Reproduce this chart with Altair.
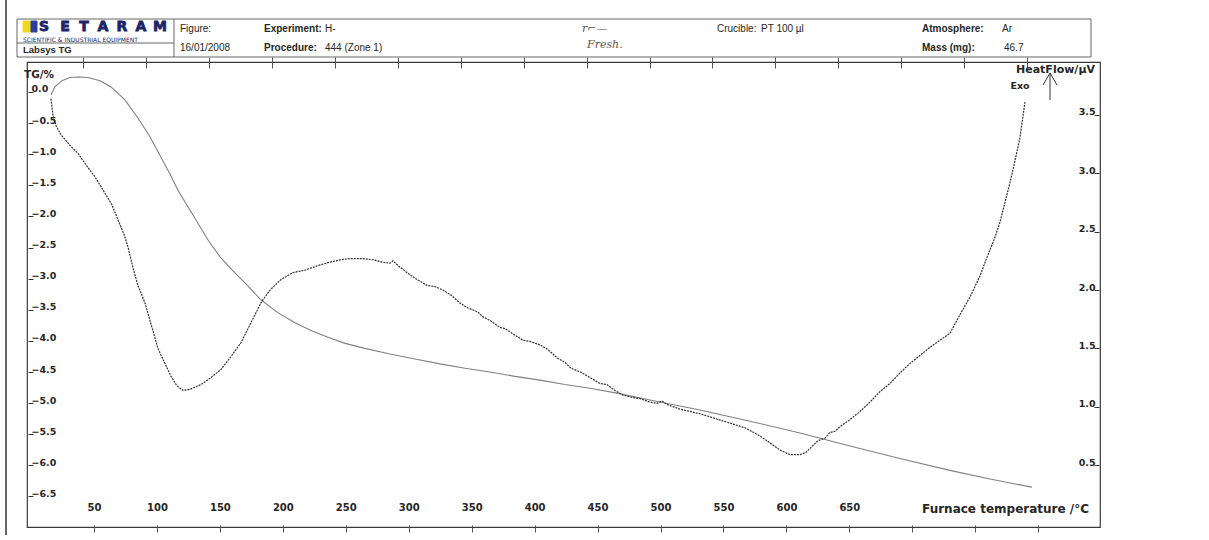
import altair as alt
import pandas as pd

# ---- measured traces ---------------------------------------------------
# TG trace: furnace temperature (°C) and mass change (%)
tg_temp = [15.8, 19.0, 24.6, 30.9, 37.3, 45.2, 54.8, 63.5, 74.6, 84.9,
           94.5, 103.2, 110.4, 116.7, 123.9, 130.2, 140.6, 150.1, 159.6, 169.9,
           182.6, 196.2, 209.7, 223.2, 235.9, 249.4, 265.3, 285.1, 305.0, 324.8,
           344.7, 364.5, 384.4, 404.3, 424.1, 444.0, 465.4, 491.6, 531.3, 571.1,
           610.8, 650.5, 690.2, 729.9, 761.7, 795.0]
tg_mass = [-0.05, 0.08, 0.18, 0.23, 0.24, 0.23, 0.18, 0.08, -0.13, -0.42,
           -0.72, -1.05, -1.32, -1.58, -1.82, -2.03, -2.38, -2.65, -2.86, -3.07,
           -3.34, -3.55, -3.71, -3.84, -3.94, -4.04, -4.12, -4.21, -4.29, -4.37,
           -4.44, -4.50, -4.57, -4.63, -4.70, -4.76, -4.84, -4.95, -5.11, -5.29,
           -5.48, -5.69, -5.89, -6.08, -6.22, -6.35]

# Heat-flow trace: furnace temperature (°C) and signal (µV)
hf_temp = [15.8, 17.4, 19.8, 23.8, 30.9, 37.3, 45.2, 50.8, 58.7, 64.3,
           69.1, 73.8, 77.0, 81.0, 84.9, 90.5, 96.1, 100.8, 106.4, 111.2,
           115.9, 120.7, 126.3, 135.0, 142.9, 150.9, 158.8, 166.8, 174.7, 182.6,
           189.8, 198.5, 208.1, 217.6, 227.9, 237.5, 246.2, 253.3, 262.9, 271.6,
           278.8, 285.1, 287.5, 291.5, 298.6, 306.6, 314.5, 320.9, 327.2, 334.4,
           340.7, 346.3, 351.0, 355.0, 359.0, 364.5, 372.5, 376.5, 382.0, 390.8,
           396.3, 404.3, 410.6, 417.8, 424.1, 428.9, 436.0, 444.0, 451.9, 457.5,
           463.8, 470.2, 477.3, 483.7, 491.6, 497.2, 501.2, 505.1, 515.5, 523.4,
           531.3, 543.3, 555.2, 567.1, 579.0, 587.0, 594.9, 602.8, 610.8, 615.6,
           620.3, 625.1, 630.6, 634.6, 638.6, 642.6, 650.5, 658.5, 666.4, 674.3,
           682.3, 690.2, 698.1, 706.1, 714.0, 722.0, 729.9, 737.9, 745.8, 753.7,
           759.3, 764.9, 769.6, 773.6, 777.6, 781.6, 785.6, 789.5]
hf_signal = [3.64, 3.50, 3.41, 3.33, 3.24, 3.17, 3.05, 2.97, 2.83, 2.73,
             2.60, 2.48, 2.37, 2.19, 2.04, 1.89, 1.68, 1.50, 1.37, 1.26,
             1.18, 1.14, 1.15, 1.19, 1.25, 1.32, 1.43, 1.55, 1.72, 1.89,
             2.00, 2.09, 2.15, 2.17, 2.21, 2.24, 2.26, 2.27, 2.27, 2.26,
             2.24, 2.23, 2.25, 2.21, 2.15, 2.09, 2.04, 2.03, 2.00, 1.95,
             1.89, 1.85, 1.83, 1.81, 1.77, 1.74, 1.68, 1.67, 1.63, 1.57,
             1.56, 1.53, 1.49, 1.42, 1.38, 1.33, 1.30, 1.25, 1.20, 1.19,
             1.14, 1.10, 1.08, 1.07, 1.04, 1.03, 1.05, 1.02, 0.98, 0.96,
             0.94, 0.90, 0.86, 0.82, 0.75, 0.69, 0.63, 0.59, 0.59, 0.61,
             0.66, 0.71, 0.73, 0.78, 0.79, 0.83, 0.89, 0.96, 1.04, 1.13,
             1.20, 1.29, 1.37, 1.44, 1.51, 1.57, 1.63, 1.79, 1.94, 2.12,
             2.28, 2.43, 2.58, 2.75, 2.92, 3.11, 3.31, 3.61]

temp_ticks = [50, 100, 150, 200, 250, 300, 350, 400, 450, 500, 550, 600, 650,
              700, 750, 800]
temp_last_label = 650
tg_ticks = [0.0, -0.5, -1.0, -1.5, -2.0, -2.5, -3.0, -3.5, -4.0, -4.5, -5.0,
            -5.5, -6.0, -6.5]
hf_ticks = [0.5, 1.0, 1.5, 2.0, 2.5, 3.0, 3.5]

# ---- page geometry -----------------------------------------------------
W, H = 1073, 465
OX, OY = 27, 62          # page position of the plot frame's top-left corner
TEMP_DOMAIN = [-3.2, 849.1]
TG_DOMAIN = [-6.99, 0.48]
HF_DOMAIN = [-0.03, 3.954]

INK = "#262626"
tg_df = pd.DataFrame({"temp": tg_temp, "tg": tg_mass})
hf_df = pd.DataFrame({"temp": hf_temp, "hf": hf_signal})
stamp = pd.DataFrame({"k": [0]})

temp_scale = alt.Scale(domain=TEMP_DOMAIN, nice=False, zero=False)
tick_labels = dict(labelFont="DejaVu Sans", labelFontWeight="bold",
                   labelColor=INK, labelFlush=False, labelOverlap=False,
                   grid=False, domain=False, title=None)

tg_line = alt.Chart(tg_df).mark_line(color="#808080", strokeWidth=1.1).encode(
    x=alt.X("temp:Q", scale=temp_scale,
            axis=alt.Axis(orient="top", values=temp_ticks, labels=False,
                          tickSize=11, offset=-6, tickOffset=-11,
                          tickColor="#555", domain=False, grid=False,
                          title=None)),
    y=alt.Y("tg:Q", scale=alt.Scale(domain=TG_DOMAIN, nice=False, zero=False),
            axis=alt.Axis(orient="left", values=tg_ticks, format=".1f",
                          offset=-6, tickSize=5, tickColor="#333",
                          labelAlign="left", labelBaseline="alphabetic",
                          labelPadding=-3, labelFontSize=9.5, **tick_labels)),
)

hf_line = alt.Chart(hf_df).mark_line(color="#303030", strokeWidth=1.2,
                                      strokeDash=[2, 1]).encode(
    x=alt.X("temp:Q", scale=temp_scale,
            axis=alt.Axis(orient="bottom", values=temp_ticks,
                          labelExpr=f"datum.value <= {temp_last_label} ? datum.label : ''",
                          tickSize=7, offset=-2, tickColor="#555",
                          labelBaseline="middle", labelPadding=-25,
                          labelFontSize=10, **tick_labels)),
    y=alt.Y("hf:Q", scale=alt.Scale(domain=HF_DOMAIN, nice=False, zero=False),
            axis=alt.Axis(orient="right", values=hf_ticks, format=".1f",
                          offset=-6, tickSize=5, tickColor="#333",
                          labelAlign="right", labelBaseline="alphabetic",
                          labelPadding=-4, labelFontSize=9.5, **tick_labels)),
)


def note(text, x, y, size=10, weight="normal", align="left",
         font="Liberation Sans", color=INK, style="normal", **extra):
    """Text placed at page coordinates (x, y)."""
    return alt.Chart(stamp).mark_text(
        text=text, fontSize=size, fontWeight=weight, align=align,
        baseline="middle", font=font, color=color, fontStyle=style, **extra,
    ).encode(x=alt.value(x - OX), y=alt.value(y - OY))


def stroke(x1, y1, x2, y2, color="#555", width=1.0):
    """Straight line between two page coordinates."""
    return alt.Chart(stamp).mark_rule(color=color, strokeWidth=width).encode(
        x=alt.value(x1 - OX), y=alt.value(y1 - OY),
        x2=alt.value(x2 - OX), y2=alt.value(y2 - OY))


def box(x1, y1, x2, y2, fill="transparent", color="#666", width=1.0):
    return alt.Chart(stamp).mark_rect(fill=fill, stroke=color,
                                      strokeWidth=width).encode(
        x=alt.value(x1 - OX), y=alt.value(y1 - OY),
        x2=alt.value(x2 - OX), y2=alt.value(y2 - OY))


# ---- instrument header --------------------------------------------------
header = [
    box(17, 19, 1091, 57),
    stroke(174, 19, 174, 57, color="#666"),
    stroke(17, 43, 174, 43, color="#666"),
    box(23, 21, 31, 32, fill="#f0d824", color="#f0d824"),
    box(31, 21, 37, 32, fill="#2f3f9c", color="#2f3f9c"),
]
for ch, cx in zip("SETARAM", [44, 65, 84, 103, 122, 141, 160]):
    header.append(note(ch, cx, 26.5, size=14, weight="bold", align="center",
                       font="DejaVu Sans", color="#1b2466",
                       stroke="#1b2466", strokeWidth=0.8))
header += [
    note("SCIENTIFIC & INDUSTRIAL EQUIPMENT", 23, 39.5, size=6,
         font="DejaVu Sans", color="#1b2466"),
    note("Labsys TG", 23, 50, size=9.5, weight="bold"),
    note("Figure:", 180, 29),
    note("16/01/2008", 180, 48),
    note("Experiment:", 264, 29, weight="bold"),
    note("H-", 325, 29),
    note("Procedure:", 264, 48, weight="bold"),
    note("444 (Zone 1)", 325, 48),
    note("r⌐—", 582, 29, size=11, font="DejaVu Serif", style="italic",
         color="#555"),
    note("Fresh.", 587, 45, size=11, font="DejaVu Serif", style="italic",
         color="#555"),
    note("Crucible:", 717, 29),
    note("PT 100 µl", 761, 29),
    note("Atmosphere:", 922, 29, weight="bold"),
    note("Ar", 1002, 29),
    note("Mass (mg):", 922, 48, weight="bold"),
    note("46.7", 1004, 48),
]

# ---- axis titles and page edge -------------------------------------------
titles = [
    note("TG/%", 24, 75, size=10.5, weight="bold", font="DejaVu Sans"),
    note("HeatFlow/µV", 1095, 70, size=11, weight="bold", align="right",
         font="DejaVu Sans"),
    note("Exo", 1020, 86, size=9.5, weight="bold", align="center",
         font="DejaVu Sans"),
    stroke(1050, 100, 1050, 73, color="#333"),
    stroke(1050, 73, 1043, 85, color="#333"),
    stroke(1050, 73, 1057, 85, color="#333"),
    note("Furnace temperature /°C", 1089, 509, size=12, weight="bold",
         align="right", font="DejaVu Sans"),
    stroke(6, 0, 6, 535, color="#333", width=1.5),
]

chart = alt.layer(tg_line, hf_line, *header, *titles).resolve_scale(
    y="independent"
).resolve_axis(
    x="independent", y="independent"
).properties(
    width=W, height=H,
    padding={"left": OX, "top": OY, "right": 1209 - OX - W,
             "bottom": 540 - OY - H},
    autosize=alt.AutoSizeParams(type="none"),
    background="white",
).configure_view(stroke="#3a3a3a", strokeWidth=1.2)

chart.save("out.html", embed_options={"renderer": "svg", "actions": False})
